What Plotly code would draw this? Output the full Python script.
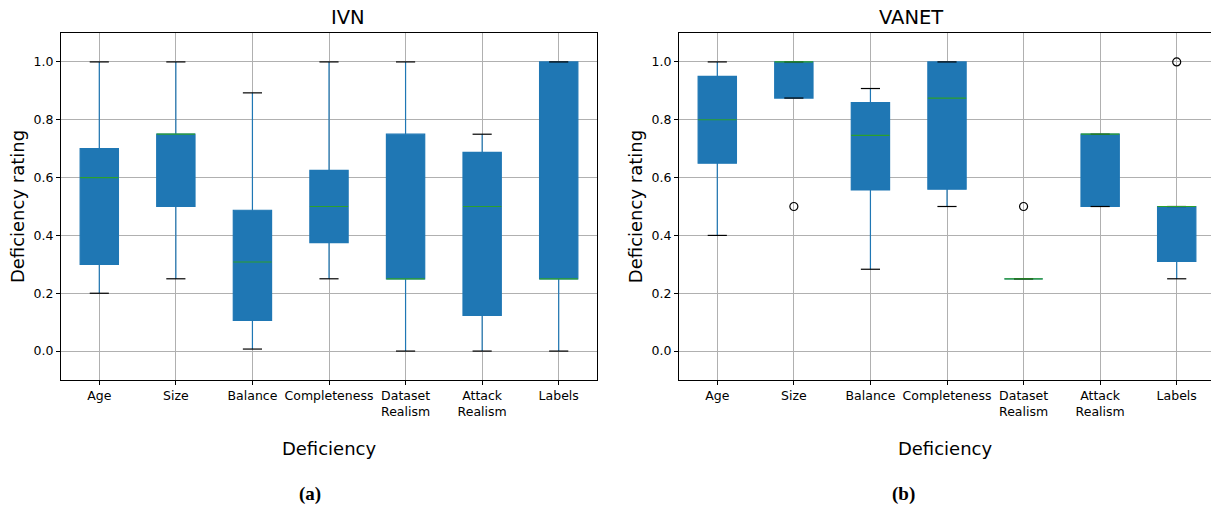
import plotly.graph_objects as go

# ---------------- data ----------------
categories = ["Age", "Size", "Balance", "Completeness", "Dataset<br>Realism", "Attack<br>Realism", "Labels"]
positions = [1, 2, 3, 4, 5, 6, 7]

# IVN
ivn_lower = [0.20, 0.25, 0.007, 0.25, 0.00, 0.00, 0.00]
ivn_q1 = [0.30, 0.50, 0.106, 0.375, 0.25, 0.123, 0.25]
ivn_median = [0.60, 0.75, 0.308, 0.50, 0.25, 0.50, 0.25]
ivn_q3 = [0.70, 0.75, 0.487, 0.625, 0.75, 0.687, 1.00]
ivn_upper = [1.00, 1.00, 0.893, 1.00, 1.00, 0.75, 1.00]

# VANET
vanet_lower = [0.40, 0.875, 0.283, 0.50, 0.25, 0.50, 0.25]
vanet_q1 = [0.65, 0.875, 0.557, 0.56, 0.25, 0.50, 0.31]
vanet_median = [0.80, 1.00, 0.746, 0.875, 0.25, 0.75, 0.50]
vanet_q3 = [0.95, 1.00, 0.859, 1.00, 0.25, 0.75, 0.50]
vanet_upper = [1.00, 1.00, 0.908, 1.00, 0.25, 0.75, 0.50]
vanet_outlier_pos = [2, 5, 7]
vanet_outlier_val = [0.50, 0.50, 1.00]

y_tickvals = [0.0, 0.2, 0.4, 0.6, 0.8, 1.0]

BOX_W = 0.5
CAP_HALF = BOX_W / 4
BLUE = "#1f77b4"
GREEN = "#2ca02c"
FONT = "DejaVu Sans"

W, H = 1211, 510
ML, MR, MT = 61, 0, 33
MB = H - 380
PW = W - ML - MR
PH = H - MT - MB

fig = go.Figure()


def seg_xy(pos, vals, half):
    xs, ys = [], []
    for p, v in zip(pos, vals):
        xs += [p - half, p + half, None]
        ys += [v, v, None]
    return xs, ys


def add_panel(suffix, lower, q1, med, q3, upper, out_pos=None, out_val=None):
    xa = "x" + suffix
    ya = "y" + suffix
    fig.add_trace(go.Box(
        x=positions, q1=q1, median=med, q3=q3, lowerfence=lower, upperfence=upper,
        width=BOX_W, whiskerwidth=0, fillcolor=BLUE,
        line=dict(color=BLUE, width=1.2), boxpoints=False,
        xaxis=xa, yaxis=ya, showlegend=False, hoverinfo="skip"))
    # caps
    cx1, cy1 = seg_xy(positions, lower, CAP_HALF)
    cx2, cy2 = seg_xy(positions, upper, CAP_HALF)
    fig.add_trace(go.Scatter(x=cx1 + cx2, y=cy1 + cy2, mode="lines",
                             line=dict(color="black", width=1.2),
                             xaxis=xa, yaxis=ya, showlegend=False, hoverinfo="skip"))
    # medians
    mx, my = seg_xy(positions, med, BOX_W / 2)
    fig.add_trace(go.Scatter(x=mx, y=my, mode="lines",
                             line=dict(color=GREEN, width=1.2),
                             xaxis=xa, yaxis=ya, showlegend=False, hoverinfo="skip"))
    if out_pos:
        fig.add_trace(go.Scatter(x=out_pos, y=out_val, mode="markers",
                                 marker=dict(symbol="circle-open", size=8, color="black",
                                             line=dict(width=1.2, color="black")),
                                 xaxis=xa, yaxis=ya, showlegend=False, hoverinfo="skip"))


add_panel("", ivn_lower, ivn_q1, ivn_median, ivn_q3, ivn_upper)
add_panel("2", vanet_lower, vanet_q1, vanet_median, vanet_q3, vanet_upper,
          vanet_outlier_pos, vanet_outlier_val)

left_dom = [0, 536 / PW]
right_dom = [(679 - ML) / PW, 1]
right_max = 0.5 + (W - 679) / (536 / 7)

axis_common = dict(
    showline=True, linecolor="black", linewidth=1,
    ticks="outside", ticklen=4, tickwidth=1, tickcolor="black",
    showgrid=True, gridcolor="#b0b0b0", gridwidth=1,
    zeroline=False, tickfont=dict(family=FONT, size=12.5, color="black"),
)

xcommon = dict(axis_common, tickmode="array", tickvals=positions, ticktext=categories,
               title=dict(text="Deficiency", font=dict(family=FONT, size=18, color="black"),
                          standoff=24))
ycommon = dict(axis_common, range=[-0.1, 1.1], tickmode="array", tickvals=y_tickvals,
               tickformat=".1f",
               title=dict(text="Deficiency rating", font=dict(family=FONT, size=18, color="black"),
                          standoff=4))

fig.update_layout(
    width=W, height=H,
    margin=dict(l=ML, r=MR, t=MT, b=MB, autoexpand=False),
    paper_bgcolor="white", plot_bgcolor="white",
    font=dict(family=FONT, color="black"),
    xaxis=dict(xcommon, domain=left_dom, range=[0.5, 7.5], mirror=True, anchor="y"),
    yaxis=dict(ycommon, domain=[0, 1], mirror=True, anchor="x"),
    xaxis2=dict(xcommon, domain=right_dom, range=[0.5, right_max], mirror=True, anchor="y2"),
    yaxis2=dict(ycommon, domain=[0, 1], mirror=False, anchor="x2"),
)

title_y = 1 + (MT - 17.5) / PH
fig.add_annotation(text="IVN", x=(left_dom[0] + left_dom[1]) / 2, y=title_y, xref="paper", yref="paper",
                   showarrow=False, yanchor="middle", font=dict(family=FONT, size=19.5, color="black"))
fig.add_annotation(text="VANET", x=(945 - ML) / PW, y=title_y, xref="paper", yref="paper",
                   showarrow=False, yanchor="middle", font=dict(family=FONT, size=19.5, color="black"))

cap_y = (MT + PH - 494) / PH
fig.add_annotation(text="<b>(a)</b>", x=(297 - ML) / PW, y=cap_y, xref="paper", yref="paper",
                   showarrow=False, yanchor="middle",
                   font=dict(family="Liberation Serif", size=19, color="black"))
fig.add_annotation(text="<b>(b)</b>", x=(917 - ML) / PW, y=cap_y, xref="paper", yref="paper",
                   showarrow=False, yanchor="middle",
                   font=dict(family="Liberation Serif", size=19, color="black"))

# remove the browser's default 8px page margin so the figure fills the window exactly
fig.write_html("out.html",
               config={"displayModeBar": False},
               post_script="document.body.style.margin='0';document.body.style.overflow='hidden';")
